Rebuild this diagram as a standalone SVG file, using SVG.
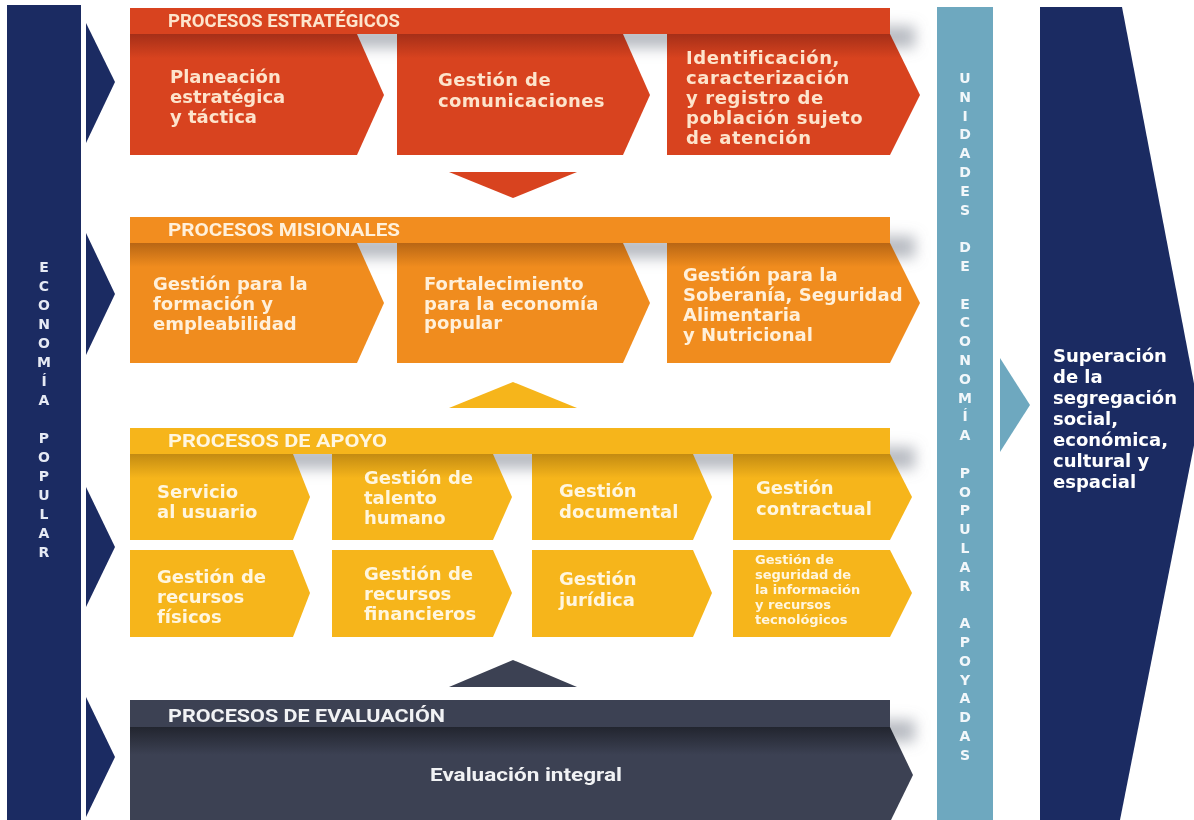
<svg xmlns="http://www.w3.org/2000/svg" width="1194" height="820" viewBox="0 0 1194 820">
<defs>
<style>
.bt{font-family:"DejaVu Sans","Liberation Sans",sans-serif;font-weight:bold;font-size:18px}
.sm{font-family:"DejaVu Sans","Liberation Sans",sans-serif;font-weight:bold;font-size:13px}
.hd{font-family:Roboto,"Liberation Sans",sans-serif;font-weight:700;font-size:18px}
.vl{font-family:"DejaVu Sans","Liberation Sans",sans-serif;font-weight:bold;font-size:14px;text-anchor:middle;fill:#e6eaf4}
.vr{font-family:"DejaVu Sans","Liberation Sans",sans-serif;font-weight:bold;font-size:14px;text-anchor:middle;fill:#f2f7fa}
.cr{fill:#fde4cc}
.co{fill:#fff0da}
.cy{fill:#fff6df}
.cw{fill:#f1f2f4}
.sh{fill:#7d838f;opacity:.55}
</style>
<linearGradient id="gR" x1="0" y1="0" x2="0" y2="1"><stop offset="0" stop-color="#a52f18"/><stop offset=".2" stop-color="#d8431f"/></linearGradient>
<linearGradient id="gO" x1="0" y1="0" x2="0" y2="1"><stop offset="0" stop-color="#b86614"/><stop offset=".2" stop-color="#f08c1e"/></linearGradient>
<linearGradient id="gY" x1="0" y1="0" x2="0" y2="1"><stop offset="0" stop-color="#c38b12"/><stop offset=".28" stop-color="#f6b51b"/></linearGradient>
<linearGradient id="gD" x1="0" y1="0" x2="0" y2="1"><stop offset="0" stop-color="#22252f"/><stop offset=".3" stop-color="#3c4153"/></linearGradient>
<filter id="bl" x="-10%" y="-100%" width="120%" height="300%"><feGaussianBlur stdDeviation="7"/></filter>
</defs>
<rect width="1194" height="820" fill="#ffffff"/>

<g id="shadows" filter="url(#bl)">
<rect class="sh" x="150" y="26" width="765" height="22"/>
<rect class="sh" x="150" y="236" width="765" height="22"/>
<rect class="sh" x="150" y="447" width="765" height="22"/>
<rect class="sh" x="150" y="720" width="765" height="22"/>
</g>

<g id="economia-popular">
<rect x="7" y="5" width="74" height="815" fill="#1b2b62"/>
<text class="vl"><tspan x="44" y="272">E</tspan><tspan x="44" y="291">C</tspan><tspan x="44" y="310">O</tspan><tspan x="44" y="329">N</tspan><tspan x="44" y="348">O</tspan><tspan x="44" y="367">M</tspan><tspan x="44" y="386">Í</tspan><tspan x="44" y="405">A</tspan><tspan x="44" y="443">P</tspan><tspan x="44" y="462">O</tspan><tspan x="44" y="481">P</tspan><tspan x="44" y="500">U</tspan><tspan x="44" y="519">L</tspan><tspan x="44" y="538">A</tspan><tspan x="44" y="557">R</tspan></text>
</g>

<g id="connectors">
<polygon points="86,23 115,82 86,143" fill="#1b2b62"/>
<polygon points="86,233 115,294 86,355" fill="#1b2b62"/>
<polygon points="86,487 115,547 86,607" fill="#1b2b62"/>
<polygon points="86,697 115,757 86,817" fill="#1b2b62"/>
<polygon points="449,172 577,172 513,198" fill="#d8431f"/>
<polygon points="449,408 577,408 513,382" fill="#f6b51b"/>
<polygon points="449,687 577,687 513,660" fill="#3c4153"/>
<polygon points="1000,358 1030,405 1000,452" fill="#6ea8bf"/>
</g>

<g id="estrategicos">
<rect x="130" y="8" width="760" height="26" fill="#d8431f"/>
<text class="hd cr" x="168" y="27" textLength="232" lengthAdjust="spacingAndGlyphs">PROCESOS ESTRATÉGICOS</text>
<g id="planeacion"><polygon points="130,34 357,34 384,95 357,155 130,155" fill="url(#gR)"/>
<text class="bt cr"><tspan x="170" y="83">Planeación</tspan><tspan x="170" y="103">estratégica</tspan><tspan x="170" y="123">y táctica</tspan></text></g>
<g id="comunicaciones"><polygon points="397,34 623,34 650,95 623,155 397,155" fill="url(#gR)"/>
<text class="bt cr" letter-spacing=".4"><tspan x="438" y="86">Gestión de</tspan><tspan x="438" y="107">comunicaciones</tspan></text></g>
<g id="identificacion"><polygon points="667,34 890,34 920,95 890,155 667,155" fill="url(#gR)"/>
<text class="bt cr" letter-spacing=".6"><tspan x="686" y="64">Identificación,</tspan><tspan x="686" y="84">caracterización</tspan><tspan x="686" y="104">y registro de</tspan><tspan x="686" y="124">población sujeto</tspan><tspan x="686" y="144">de atención</tspan></text></g>
</g>

<g id="misionales">
<rect x="130" y="217" width="760" height="26" fill="#f28d1f"/>
<text class="hd co" x="168" y="236" textLength="232" lengthAdjust="spacingAndGlyphs">PROCESOS MISIONALES</text>
<g id="formacion"><polygon points="130,243 357,243 384,303 357,363 130,363" fill="url(#gO)"/>
<text class="bt co"><tspan x="153" y="290">Gestión para la</tspan><tspan x="153" y="310">formación y</tspan><tspan x="153" y="330">empleabilidad</tspan></text></g>
<g id="fortalecimiento"><polygon points="397,243 623,243 650,303 623,363 397,363" fill="url(#gO)"/>
<text class="bt co"><tspan x="424" y="290">Fortalecimiento</tspan><tspan x="424" y="310">para la economía</tspan><tspan x="424" y="329">popular</tspan></text></g>
<g id="soberania"><polygon points="667,243 890,243 920,303 890,363 667,363" fill="url(#gO)"/>
<text class="bt co"><tspan x="683" y="281">Gestión para la</tspan><tspan x="683" y="301">Soberanía, Seguridad</tspan><tspan x="683" y="321">Alimentaria</tspan><tspan x="683" y="341">y Nutricional</tspan></text></g>
</g>

<g id="apoyo">
<rect x="130" y="428" width="760" height="26" fill="#f6b51b"/>
<text class="hd cy" x="168" y="447" textLength="219" lengthAdjust="spacingAndGlyphs">PROCESOS DE APOYO</text>
<g id="servicio"><polygon points="130,454 293,454 310,497 293,540 130,540" fill="url(#gY)"/>
<text class="bt cy"><tspan x="157" y="498">Servicio</tspan><tspan x="157" y="518">al usuario</tspan></text></g>
<g id="talento"><polygon points="332,454 493,454 512,497 493,540 332,540" fill="url(#gY)"/>
<text class="bt cy"><tspan x="364" y="484">Gestión de</tspan><tspan x="364" y="504">talento</tspan><tspan x="364" y="524">humano</tspan></text></g>
<g id="documental"><polygon points="532,454 693,454 712,497 693,540 532,540" fill="url(#gY)"/>
<text class="bt cy"><tspan x="559" y="497">Gestión</tspan><tspan x="559" y="518">documental</tspan></text></g>
<g id="contractual"><polygon points="733,454 890,454 912,497 890,540 733,540" fill="url(#gY)"/>
<text class="bt cy"><tspan x="756" y="494">Gestión</tspan><tspan x="756" y="515">contractual</tspan></text></g>
<g id="fisicos"><polygon points="130,550 293,550 310,593 293,637 130,637" fill="#f6b51b"/>
<text class="bt cy"><tspan x="157" y="583">Gestión de</tspan><tspan x="157" y="603">recursos</tspan><tspan x="157" y="623">físicos</tspan></text></g>
<g id="financieros"><polygon points="332,550 493,550 512,593 493,637 332,637" fill="#f6b51b"/>
<text class="bt cy"><tspan x="364" y="580">Gestión de</tspan><tspan x="364" y="600">recursos</tspan><tspan x="364" y="620">financieros</tspan></text></g>
<g id="juridica"><polygon points="532,550 693,550 712,593 693,637 532,637" fill="#f6b51b"/>
<text class="bt cy"><tspan x="559" y="585">Gestión</tspan><tspan x="559" y="606">jurídica</tspan></text></g>
<g id="seguridad"><polygon points="733,550 890,550 912,593 890,637 733,637" fill="#f6b51b"/>
<text class="sm cy"><tspan x="755" y="564">Gestión de</tspan><tspan x="755" y="579">seguridad de</tspan><tspan x="755" y="594">la información</tspan><tspan x="755" y="609">y recursos</tspan><tspan x="755" y="624">tecnológicos</tspan></text></g>
</g>

<g id="evaluacion">
<rect x="130" y="700" width="760" height="27" fill="#3c4153"/>
<text class="hd cw" x="168" y="722" textLength="277" lengthAdjust="spacingAndGlyphs">PROCESOS DE EVALUACIÓN</text>
<g id="integral"><polygon points="130,727 890,727 913,775 891,820 130,820" fill="url(#gD)"/>
<text class="hd cw" x="526" y="781" text-anchor="middle" textLength="192" lengthAdjust="spacingAndGlyphs">Evaluación integral</text></g>
</g>

<g id="unidades">
<rect x="937" y="7" width="56" height="813" fill="#6ea8bf"/>
<text class="vr"><tspan x="965" y="83">U</tspan><tspan x="965" y="101.8">N</tspan><tspan x="965" y="120.6">I</tspan><tspan x="965" y="139.4">D</tspan><tspan x="965" y="158.2">A</tspan><tspan x="965" y="177">D</tspan><tspan x="965" y="195.8">E</tspan><tspan x="965" y="214.6">S</tspan><tspan x="965" y="252.2">D</tspan><tspan x="965" y="271">E</tspan><tspan x="965" y="308.6">E</tspan><tspan x="965" y="327.4">C</tspan><tspan x="965" y="346.2">O</tspan><tspan x="965" y="365">N</tspan><tspan x="965" y="383.8">O</tspan><tspan x="965" y="402.6">M</tspan><tspan x="965" y="421.4">Í</tspan><tspan x="965" y="440.2">A</tspan><tspan x="965" y="477.8">P</tspan><tspan x="965" y="496.6">O</tspan><tspan x="965" y="515.4">P</tspan><tspan x="965" y="534.2">U</tspan><tspan x="965" y="553">L</tspan><tspan x="965" y="571.8">A</tspan><tspan x="965" y="590.6">R</tspan><tspan x="965" y="628.2">A</tspan><tspan x="965" y="647">P</tspan><tspan x="965" y="665.8">O</tspan><tspan x="965" y="684.6">Y</tspan><tspan x="965" y="703.4">A</tspan><tspan x="965" y="722.2">D</tspan><tspan x="965" y="741">A</tspan><tspan x="965" y="759.8">S</tspan></text>
</g>

<g id="superacion">
<polygon points="1040,7 1122,7 1200,415 1120,820 1040,820" fill="#1b2b62"/>
<text class="bt" fill="#ffffff"><tspan x="1053" y="362">Superación</tspan><tspan x="1053" y="383">de la</tspan><tspan x="1053" y="404">segregación</tspan><tspan x="1053" y="425">social,</tspan><tspan x="1053" y="446">económica,</tspan><tspan x="1053" y="467">cultural y</tspan><tspan x="1053" y="488">espacial</tspan></text>
</g>
</svg>
